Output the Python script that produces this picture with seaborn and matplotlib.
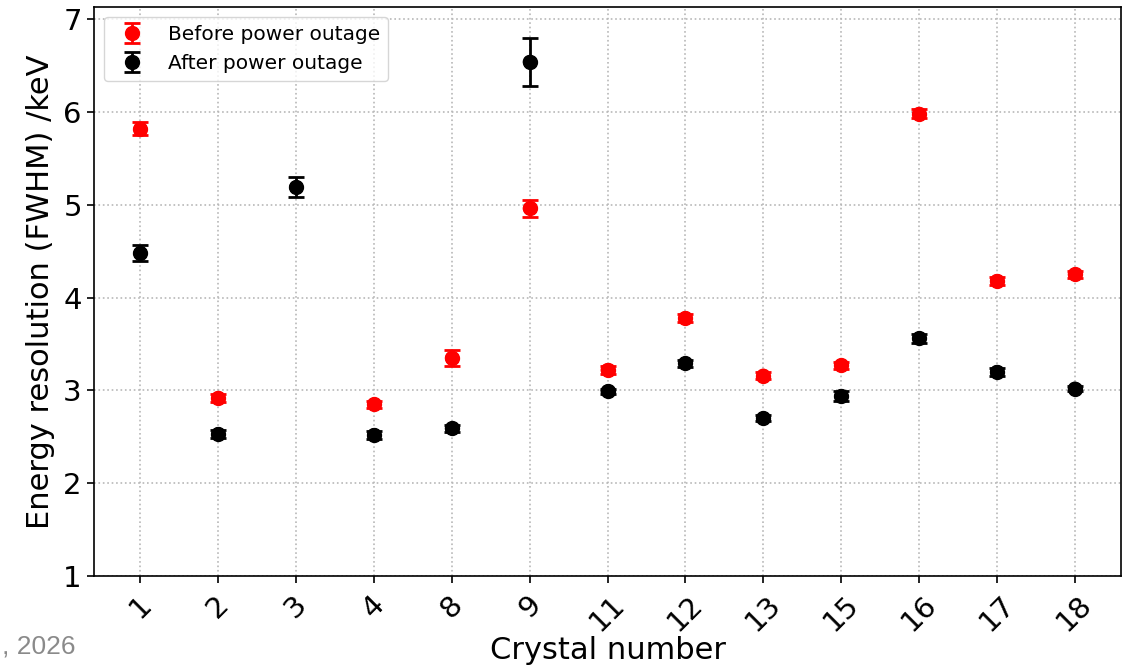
import numpy as np
import pandas as pd
import matplotlib
matplotlib.use("Agg")
import matplotlib.pyplot as plt
import seaborn as sns

crystals = ["1", "2", "3", "4", "8", "9", "11", "12", "13", "15", "16", "17", "18"]
before_vals = [5.82, 2.92, np.nan, 2.85, 3.35, 4.96, 3.22, 3.78, 3.16, 3.27, 5.98, 4.18, 4.25]
before_err = [0.07, 0.04, np.nan, 0.04, 0.09, 0.09, 0.04, 0.04, 0.04, 0.04, 0.05, 0.04, 0.04]
after_vals = [4.48, 2.53, 5.19, 2.52, 2.59, 6.54, 2.99, 3.29, 2.70, 2.94, 3.56, 3.20, 3.02]
after_err = [0.09, 0.04, 0.11, 0.04, 0.04, 0.26, 0.03, 0.04, 0.03, 0.05, 0.05, 0.04, 0.03]

sns.set_style("ticks")
plt.rcParams['font.family'] = ['DejaVu Sans']
plt.rcParams['text.color'] = 'black'
plt.rcParams['axes.labelcolor'] = 'black'

fig = plt.figure(figsize=(11.32, 6.69), dpi=100)
ax = fig.add_axes([0.0827, 0.139, 0.9907 - 0.0827, 0.9895 - 0.139])

pos = np.arange(len(crystals))
df_b = pd.DataFrame({"x": pos, "y": before_vals})
df_a = pd.DataFrame({"x": pos, "y": after_vals})

ax.errorbar(pos, before_vals, yerr=before_err, fmt='o', color='red', ecolor='red',
            markersize=10, elinewidth=2, capsize=6, capthick=2, label='Before power outage', zorder=3)
ax.errorbar(pos, after_vals, yerr=after_err, fmt='o', color='black', ecolor='black',
            markersize=10, elinewidth=2, capsize=6, capthick=2, label='After power outage', zorder=3)
sns.scatterplot(data=df_b.dropna(), x="x", y="y", color='red', s=100, edgecolor='none', legend=False, ax=ax, zorder=4)
sns.scatterplot(data=df_a, x="x", y="y", color='black', s=100, edgecolor='none', legend=False, ax=ax, zorder=4)

ax.set_xlim(-0.6, len(crystals) - 1 + 0.6)
ax.set_ylim(1, 7.13)
ax.set_xticks(pos)
ax.set_xticklabels(crystals, rotation=45, ha='center')
ax.set_yticks([1, 2, 3, 4, 5, 6, 7])
ax.tick_params(axis='both', labelsize=21, length=5, width=1.2, color='black', labelcolor='black')
ax.tick_params(axis='x', pad=5)
ax.set_xlabel("Crystal number", fontsize=22, labelpad=0, color='black')
ax.set_ylabel("Energy resolution (FWHM) /keV", fontsize=22, labelpad=6, color='black')
ax.grid(True, linestyle=':', color='#b8b8b8', linewidth=1.2)
for s in ax.spines.values():
    s.set_visible(True)
    s.set_color('black')
    s.set_linewidth(1.2)

leg = ax.legend(loc='upper left', fontsize=14.5, frameon=True, borderaxespad=0.5)
leg.get_frame().set_edgecolor('#cccccc')
for t in leg.get_texts():
    t.set_color('black')

fig.text(0.002, 0.015, ", 2026", fontsize=19, color='#8a8a8a', ha='left', va='bottom',
         family=['Liberation Sans', 'DejaVu Sans'])

fig.savefig("out.png", dpi=100)
